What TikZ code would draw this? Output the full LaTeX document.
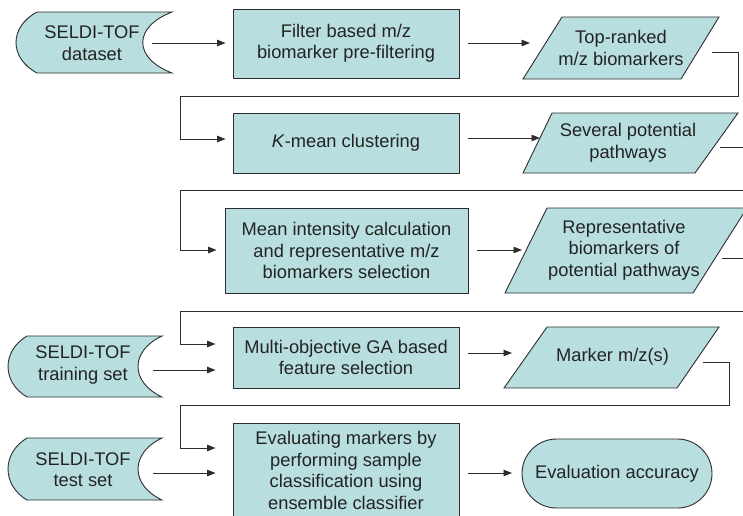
\documentclass[tikz,border=0pt]{standalone}
\usepackage{fontspec}
\setmainfont{Liberation Sans}
\usetikzlibrary{arrows.meta}
\definecolor{fillc}{RGB}{184,222,224}
\definecolor{linec}{RGB}{45,45,45}
\definecolor{textc}{RGB}{35,35,35}
\begin{document}
\begin{tikzpicture}[x=1pt,y=-1pt,
  shp/.style={draw=linec, fill=fillc, line width=0.9pt},
  box/.style={shp, rectangle, inner sep=0pt, align=center, text=textc, font=\fontsize{18.3}{21.5}\selectfont},
  lbl/.style={align=center, text=textc, inner sep=0pt, font=\fontsize{18.3}{21.5}\selectfont},
  arr/.style={draw=linec, line width=0.9pt, -{Triangle[length=8.5pt,width=6.5pt]}},
  ln/.style={draw=linec, line width=0.9pt}]
\useasboundingbox (0,0) rectangle (743,515);
\clip (0,0) rectangle (743,515);

% stored data shapes
\path[shp] (37,12) -- (172,12) .. controls (133,27) and (133,58) .. (172,73) -- (37,73) .. controls (9,58) and (9,27) .. (37,12) -- cycle;
\path[shp] (27,336) -- (162,336) .. controls (130,351) and (130,382) .. (162,397) -- (27,397) .. controls (1.7,382) and (1.7,351) .. (27,336) -- cycle;
\path[shp] (27,438) -- (162,438) .. controls (130,453) and (130,485) .. (162,500) -- (27,500) .. controls (1.7,485) and (1.7,453) .. (27,438) -- cycle;
\node[lbl] (ds) at (92,43) {SELDI-TOF\\dataset};
\node[lbl] (tr) at (83,365) {SELDI-TOF\\training set};
\node[lbl] (ts) at (83,469.5) {SELDI-TOF\\test set};

% process boxes
\node[box, minimum width=226pt, minimum height=69pt] (filt) at (346,43.5) {Filter based m/z\\biomarker pre-filtering};
\node[box, minimum width=226pt, minimum height=60pt] (kmean) at (346,143) {\textit{K}-mean clustering};
\node[box, minimum width=243pt, minimum height=85pt] (mean) at (346.5,250.5) {Mean intensity calculation\\and representative m/z\\biomarkers selection};
\node[box, minimum width=226pt, minimum height=61pt] (multi) at (346,357.5) {Multi-objective GA based\\feature selection};
\node[box, minimum width=226pt, minimum height=95pt] (evalm) at (346,470.5) {Evaluating markers by\\performing sample\\classification using\\ensemble classifier};

% data parallelograms
\path[shp] (562,17) -- (719,17) -- (681,79) -- (523,79) -- cycle;
\node[lbl] (top) at (621,48) {Top-ranked\\m/z biomarkers};
\path[shp] (552,113) -- (738,113) -- (695,173) -- (523,173) -- cycle;
\node[lbl] (sev) at (628,143) {Several potential\\pathways};
\path[shp] (547,208) -- (747,208) -- (693,293) -- (505,293) -- cycle;
\node[lbl] (rep) at (624,250) {Representative\\biomarkers of\\potential pathways};
\path[shp] (547,327) -- (719,327) -- (677,388) -- (504,388) -- cycle;
\node[lbl] (mark) at (612.5,357) {Marker m/z(s)};

% terminal
\node[box, minimum width=190pt, minimum height=69pt, rounded corners=34.5pt] (acc) at (617,473.5) {Evaluation accuracy};

% connector coordinates
\coordinate (dsout) at (152,43);
\coordinate (topin) at (530,43);
\coordinate (topout) at (712,52);
\coordinate (sevin) at (540,138);
\coordinate (sevout) at (720,147);
\coordinate (repin) at (522,250);
\coordinate (repout) at (722,258);
\coordinate (markin) at (512,353);
\coordinate (markout) at (703,362);
\coordinate (trout) at (153,370);
\coordinate (tsout) at (153,473);
\coordinate (accin) at (512,473);

% connectors
\draw[arr, shorten >=7pt] (dsout) -- (dsout -| filt.west);
\draw[arr, shorten <=9pt] (topin -| filt.east) -- (topin);
\draw[arr, shorten >=7pt] (topout) -- (738,52) -- (738,96) -- (180,96) -- (180,139) -- (180,139 -| kmean.west);
\draw[arr, shorten <=9pt] (sevin -| kmean.east) -- (sevin);
\draw[arr, shorten >=8pt] (sevout) -- (760,147) -- (760,190) -- (180,190) -- (180,250) -- (180,250 -| mean.west);
\draw[arr, shorten <=9pt] (repin -| mean.east) -- (repin);
\draw[arr, shorten >=17pt] (repout) -- (760,258) -- (760,311) -- (180,311) -- (180,344) -- (180,344 -| multi.west);
\draw[arr, shorten >=17pt] (trout) -- (trout -| multi.west);
\draw[arr, shorten <=9pt] (markin -| multi.east) -- (markin);
\draw[arr, shorten >=17pt] (markout) -- (729,362) -- (729,405) -- (180,405) -- (180,448) -- (180,448 -| evalm.west);
\draw[arr, shorten >=17pt] (tsout) -- (tsout -| evalm.west);
\draw[arr, shorten <=9pt] (accin -| evalm.east) -- (accin);
\end{tikzpicture}
\end{document}
